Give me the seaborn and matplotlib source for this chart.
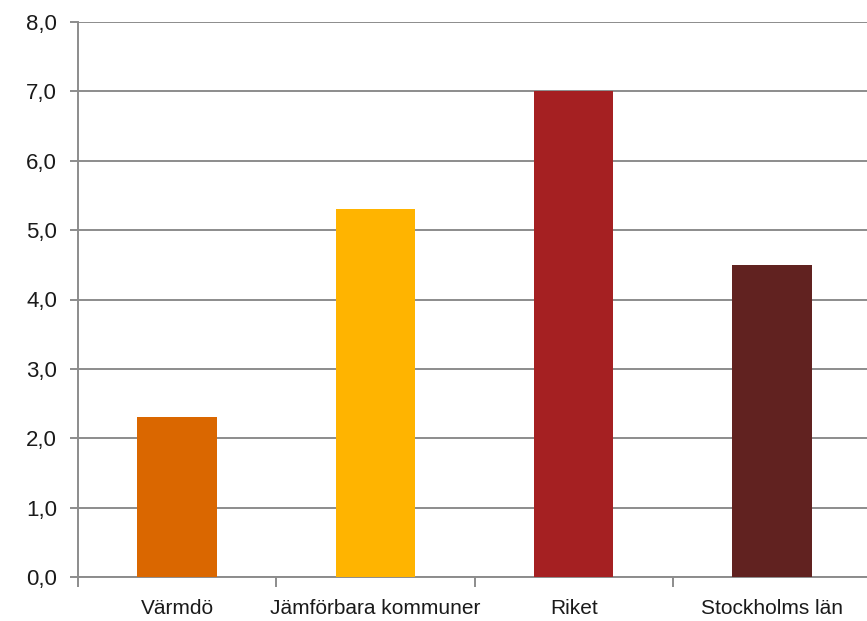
import matplotlib
matplotlib.use("Agg")
import matplotlib.pyplot as plt
import seaborn as sns
import pandas as pd
from matplotlib.ticker import FixedLocator, FuncFormatter

categories = ["Värmdö", "Jämförbara kommuner", "Riket", "Stockholms län"]
values = [2.3, 5.3, 7.0, 4.5]
colors = ["#DA6700", "#FFB400", "#A52022", "#612220"]
yticks = [0, 1, 2, 3, 4, 5, 6, 7, 8]

sns.set_theme(style="white")
plt.rcParams["font.family"] = ["Liberation Sans", "DejaVu Sans"]

df = pd.DataFrame({"cat": categories, "val": values})

fig = plt.figure(figsize=(8.67, 6.21), dpi=100)
ax = fig.add_axes([78 / 867, 44 / 621, 793 / 867, 555 / 621])

sns.barplot(data=df, x="cat", y="val", hue="cat", palette=colors,
            order=categories, hue_order=categories, legend=False,
            width=0.4, saturation=1, linewidth=0, edgecolor="none",
            ax=ax, zorder=3)

grid_c = "#8C8C8C"
ax.set_xlim(-0.5, 3.5)
ax.set_ylim(0, 8)
ax.set_yticks(yticks)
ax.yaxis.set_major_formatter(FuncFormatter(lambda v, p: f"{v:.1f}".replace(".", ",")))
ax.yaxis.grid(True, color=grid_c, linewidth=1.4, zorder=0)
ax.set_axisbelow(True)
ax.set_xlabel("")
ax.set_ylabel("")

for s in ["top", "right"]:
    ax.spines[s].set_visible(False)
for s in ["left", "bottom"]:
    ax.spines[s].set_color(grid_c)
    ax.spines[s].set_linewidth(1.4)

ax.tick_params(axis="y", which="major", left=True, length=6, width=1.4,
               color=grid_c, labelsize=16, pad=9, labelcolor="#1a1a1a")
ax.tick_params(axis="x", which="major", bottom=False, length=0,
               labelsize=15, pad=15.5, labelcolor="#1a1a1a")
ax.xaxis.set_minor_locator(FixedLocator([-0.5, 0.5, 1.5, 2.5, 3.5]))
ax.tick_params(axis="x", which="minor", bottom=True, length=7, width=1.4,
               color=grid_c)

fig.savefig("out.png", dpi=100)
